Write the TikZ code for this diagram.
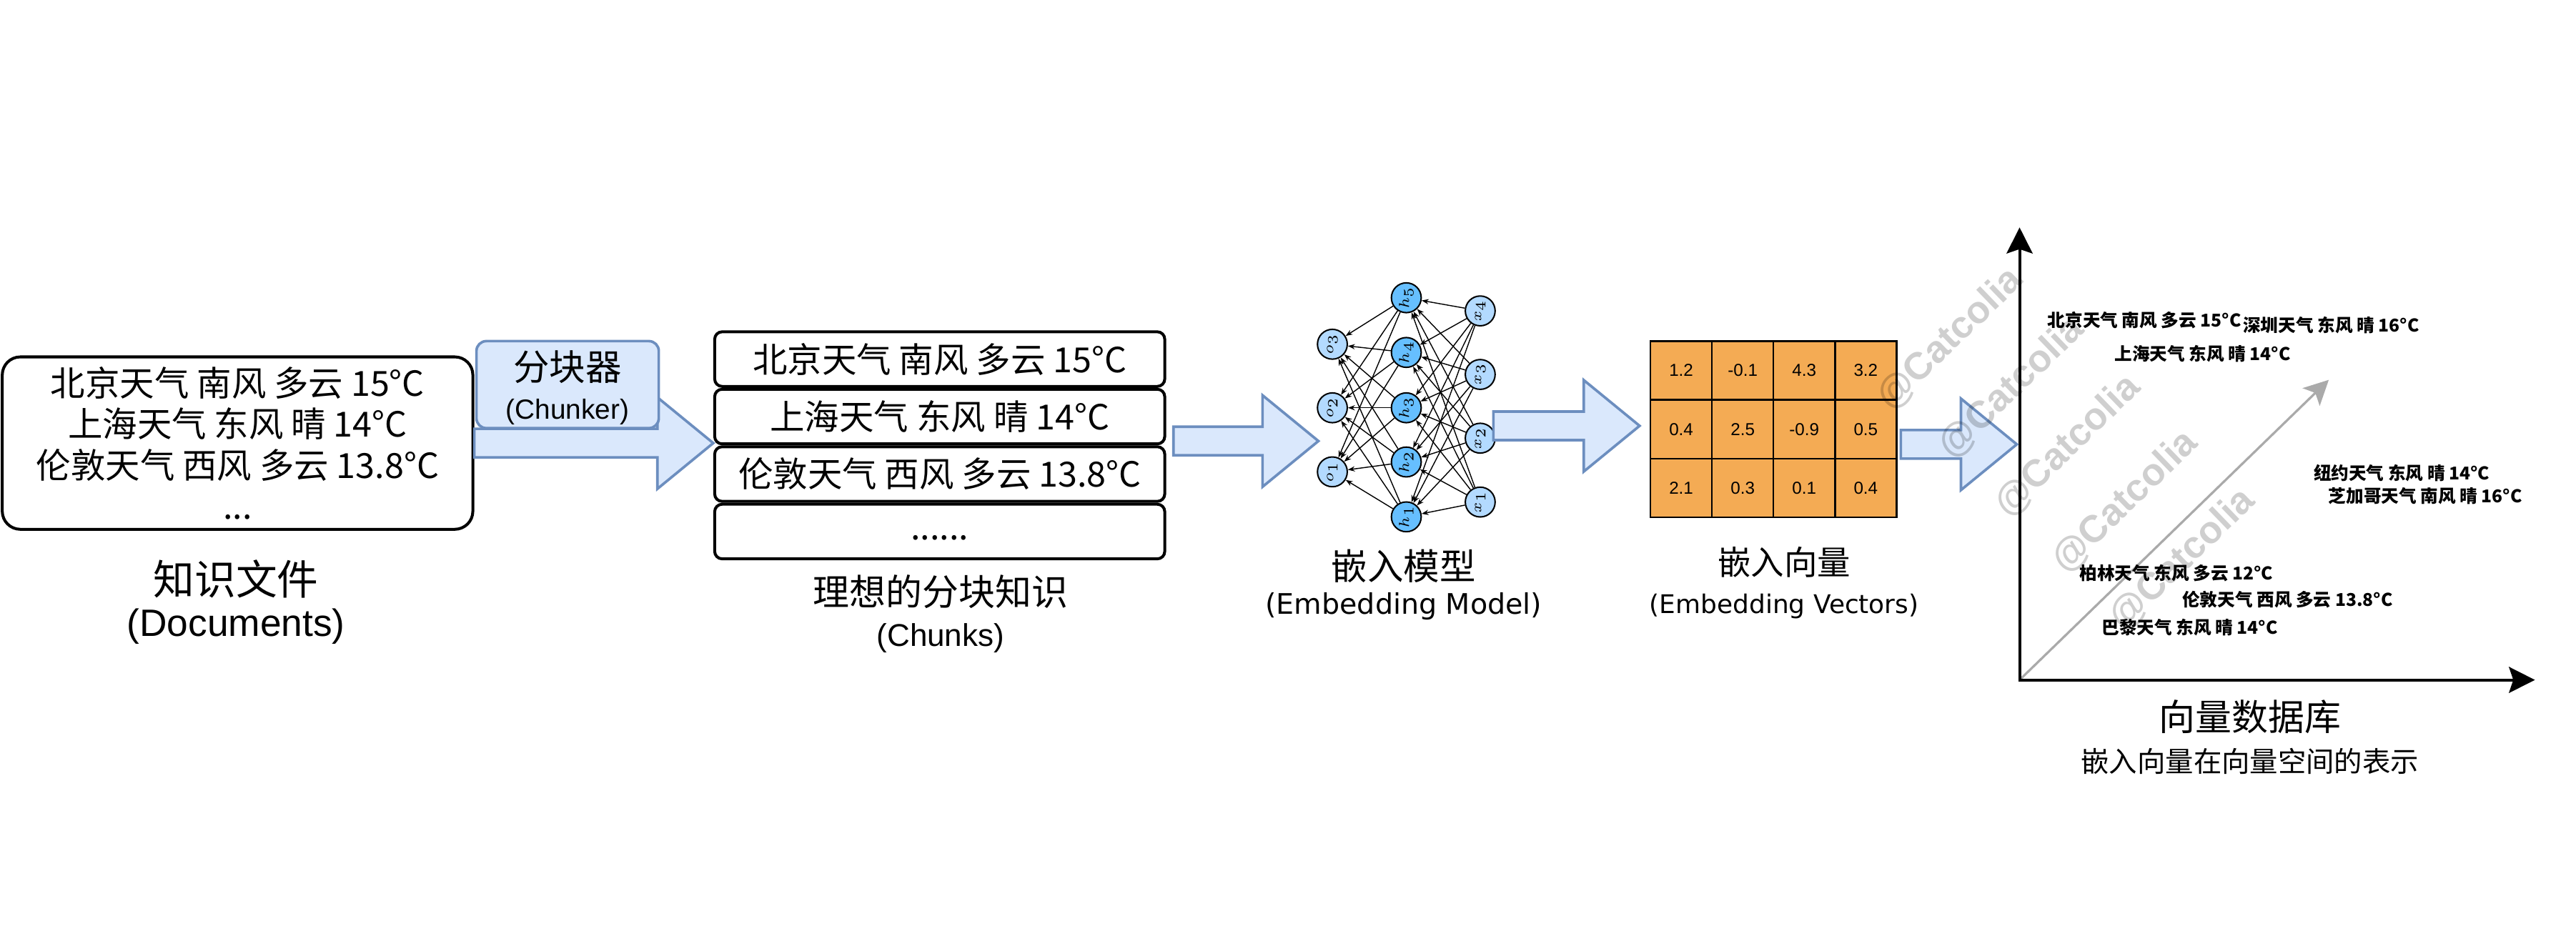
\documentclass[tikz,border=0pt]{standalone}
\usepackage{fontspec}
\setmainfont{Noto Sans CJK SC}
\newfontfamily\latinfont{Liberation Sans}
\newfontfamily\widefont{DejaVu Sans}
\usetikzlibrary{scopes,chains,calc,positioning,arrows.meta}

\definecolor{flowfill}{RGB}{218,232,252}
\definecolor{flowline}{RGB}{108,142,191}
\definecolor{cellfill}{RGB}{244,171,84}
\definecolor{nnlight}{RGB}{179,218,255}
\definecolor{nndark}{RGB}{102,191,255}
\definecolor{vecgray}{RGB}{170,170,170}

% block arrow from tail #1 to tip #2 (same height)
\newcommand\flowarrow[2]{%
  \draw[flowarr] ($(#1)+(0,8.7)$) -- ($(#2)+(-34,8.7)$) -- ($(#2)+(-34,27.85)$)
    -- (#2) -- ($(#2)+(-34,-27.85)$) -- ($(#2)+(-34,-8.7)$)
    -- ($(#1)+(0,-8.7)$) -- cycle;
}

\tikzset{
  rag schemes/.style = {
    x = 0.02cm, y = -0.02cm,
    node distance = 0mm,
    % Boxes
    docbox/.style = {draw, line width=1pt, rounded corners=0.22cm,
      minimum width=5.73cm, minimum height=2.1cm, align=center,
      font=\fontsize{12}{14.2}\selectfont},
    chunk/.style = {draw, line width=1pt, rounded corners=0.09cm,
      minimum width=5.48cm, minimum height=0.665cm, on chain,
      font=\fontsize{12}{14}\selectfont},
    chunker/.style = {draw=flowline, fill=flowfill, line width=0.9pt,
      rounded corners=0.12cm, minimum width=2.22cm, minimum height=1.06cm},
    vcell/.style = {draw, line width=0.6pt, fill=cellfill, outer sep=0pt,
      inner sep=0pt, minimum width=0.749cm, minimum height=0.715cm,
      font=\latinfont\fontsize{6}{7}\selectfont},
    % Captions
    zhcap/.style = {inner sep=0pt, font=\fontsize{##1}{##1}\selectfont},
    encap/.style = {inner sep=0pt, font=\latinfont\fontsize{##1}{##1}\selectfont},
    wdcap/.style = {inner sep=0pt, font=\widefont\fontsize{##1}{##1}\selectfont},
    veclabel/.style = {anchor=west, inner sep=0pt,
      font=\bfseries\fontsize{6.1}{7}\selectfont},
    wmark/.style = {rotate=44, inner sep=0pt, text=black, text opacity=0.19,
      font=\latinfont\bfseries\fontsize{13.2}{14}\selectfont},
    % Network
    nnin/.style  = {circle, draw, line width=0.5pt, fill=nnlight,
      minimum size=0.363cm, inner sep=0pt, rotate=90,
      font=\fontsize{4}{5}\selectfont},
    nnout/.style = {nnin},
    nnhid/.style = {nnin, fill=nndark},
    nnedge/.style = {line width=0.35pt, -{Stealth[length=2.4pt,width=1.8pt]}},
    % Lines, arrows
    flowarr/.style  = {draw=flowline, fill=flowfill, line width=0.9pt},
    axisline/.style = {line width=1pt,
      {Stealth[length=9pt,width=9pt,inset=1.5pt]}-{Stealth[length=9pt,width=9pt,inset=1.5pt]}},
    vecarr/.style   = {vecgray, line width=0.8pt,
      -{Stealth[length=8.5pt,width=8.5pt,inset=2pt]}},
  }
}

\begin{document}
\begin{tikzpicture}[rag schemes]
  \useasboundingbox (0,0) rectangle (1568,576);

  \node[docbox] (docs) at (144.6,269.8)
    {北京天气 南风 多云 15°C\\上海天气 东风 晴 14°C\\伦敦天气 西风 多云 13.8°C\\...};
  \node[zhcap=14.3] (docs-t) at (143.6,352.7) {知识文件};
  \node[encap=13.2] (docs-e) at (143.6,381.4) {(Documents)};

  { [shift={(572,218.65)}, start chain=ck going below]
    \node[chunk] {北京天气 南风 多云 15°C};
    \node[chunk] {上海天气 东风 晴 14°C};
    \node[chunk] {伦敦天气 西风 多云 13.8°C};
    \node[chunk, text height=6pt] {......};
  }
  \node[zhcap=12.6] (ck-t) at (572.5,360.4) {理想的分块知识};
  \node[encap=10.9] (ck-e) at (572.5,388.6) {(Chunks)};

  \coordinate (a1e) at (docs.east -| ck-2.west);
  \flowarrow{docs.east}{a1e}
  \node[chunker] (chunker) at (345.5,234.2) {};
  \node[zhcap=12.5] (chunker-t) at (345.5,223.3) {分块器};
  \node[encap=9.6] (chunker-e) at (345.5,251) {(Chunker)};

  % embedding model
  \foreach \i/\yy in {1/287.3,2/248.3,3/209.6}
    \node[nnout] (o\i) at (811,\yy) {$o_{\i}$};
  \foreach \i/\yy in {1/314.7,2/281.3,3/248.3,4/214.6,5/181.3}
    \node[nnhid] (h\i) at (856,\yy) {$h_{\i}$};
  \foreach \i/\yy in {1/305.7,2/266.8,3/228,4/189.3}
    \node[nnin] (x\i) at (901,\yy) {$x_{\i}$};
  \foreach \a in {1,...,4}
    \foreach \b in {1,...,5}
      \draw[nnedge] (x\a) -- (h\b);
  \foreach \b in {1,...,5}
    \foreach \c in {1,2,3}
      \draw[nnedge] (h\b) -- (o\c);
  \node[zhcap=12.5] (nn-t) at (854.4,344.7) {嵌入模型};
  \node[wdcap=9.8] (nn-e) at (854.4,369.4) {(Embedding Model)};

  \path (ck-2.south east) ++(4.4,-2.6) coordinate (a2s);
  \path (a2s -| o2.west) ++(-8.5,0) coordinate (a2e);
  \flowarrow{a2s}{a2e}

  % embedding vectors
  \foreach \vals [count=\r] in {{1.2,-0.1,4.3,3.2},{0.4,2.5,-0.9,0.5},{2.1,0.3,0.1,0.4}}
    \foreach \v [count=\c] in \vals
      \node[vcell] (m\r\c) at ({1004.6+37.45*(\c-0.5)},{207.7+35.77*(\r-0.5)}) {\v};
  \node[zhcap=11.5] (mat-t) at (1086,342.3) {嵌入向量};
  \node[wdcap=8.9] (mat-e) at (1086,369) {(Embedding Vectors)};

  \path (x2.east) ++(8,2) coordinate (a3s);
  \path (a3s -| m21.west) ++(-6.6,0) coordinate (a3e);
  \flowarrow{a3s}{a3e}

  % vector space
  \coordinate (orig) at (1229.3,414);
  \coordinate (ytop) at (1229.3,138.5);
  \coordinate (xend) at (1543,414);
  \coordinate (vtip) at (1417.5,231.3);
  \draw[vecarr] (orig) -- (vtip);
  \draw[axisline] (ytop) -- (orig) -- (xend);

  \path (m24.east) ++(2.6,9.2) coordinate (a4s);
  \path (a4s -| orig) ++(-1.7,0) coordinate (a4e);
  \flowarrow{a4s}{a4e}

  \foreach \t/\xx/\yy [count=\k] in {
      北京天气 南风 多云 15°C/1246/194.8, 深圳天气 东风 晴 16°C/1365/198,
      上海天气 东风 晴 14°C/1286.8/215.3, 纽约天气 东风 晴 14°C/1408/288,
      芝加哥天气 南风 晴 16°C/1417/302, 柏林天气 东风 多云 12°C/1265.5/349,
      伦敦天气 西风 多云 13.8°C/1328/365, 巴黎天气 东风 晴 14°C/1279/382}
    \node[veclabel] (v\k) at (\xx,\yy) {\t};
  \node[zhcap=12.6] (vdb-t) at (1369.6,436.5) {向量数据库};
  \node[zhcap=9.75] (vdb-e) at (1369.5,463.4) {嵌入向量在向量空间的表示};

  \foreach \xx/\yy [count=\k] in {1187/206.4,1224.5/236.1,1258.6/271.6,1293.6/305.5,1328.5/340.5}
    \node[wmark] (wm\k) at (\xx,\yy) {@Catcolia};
\end{tikzpicture}
\end{document}
